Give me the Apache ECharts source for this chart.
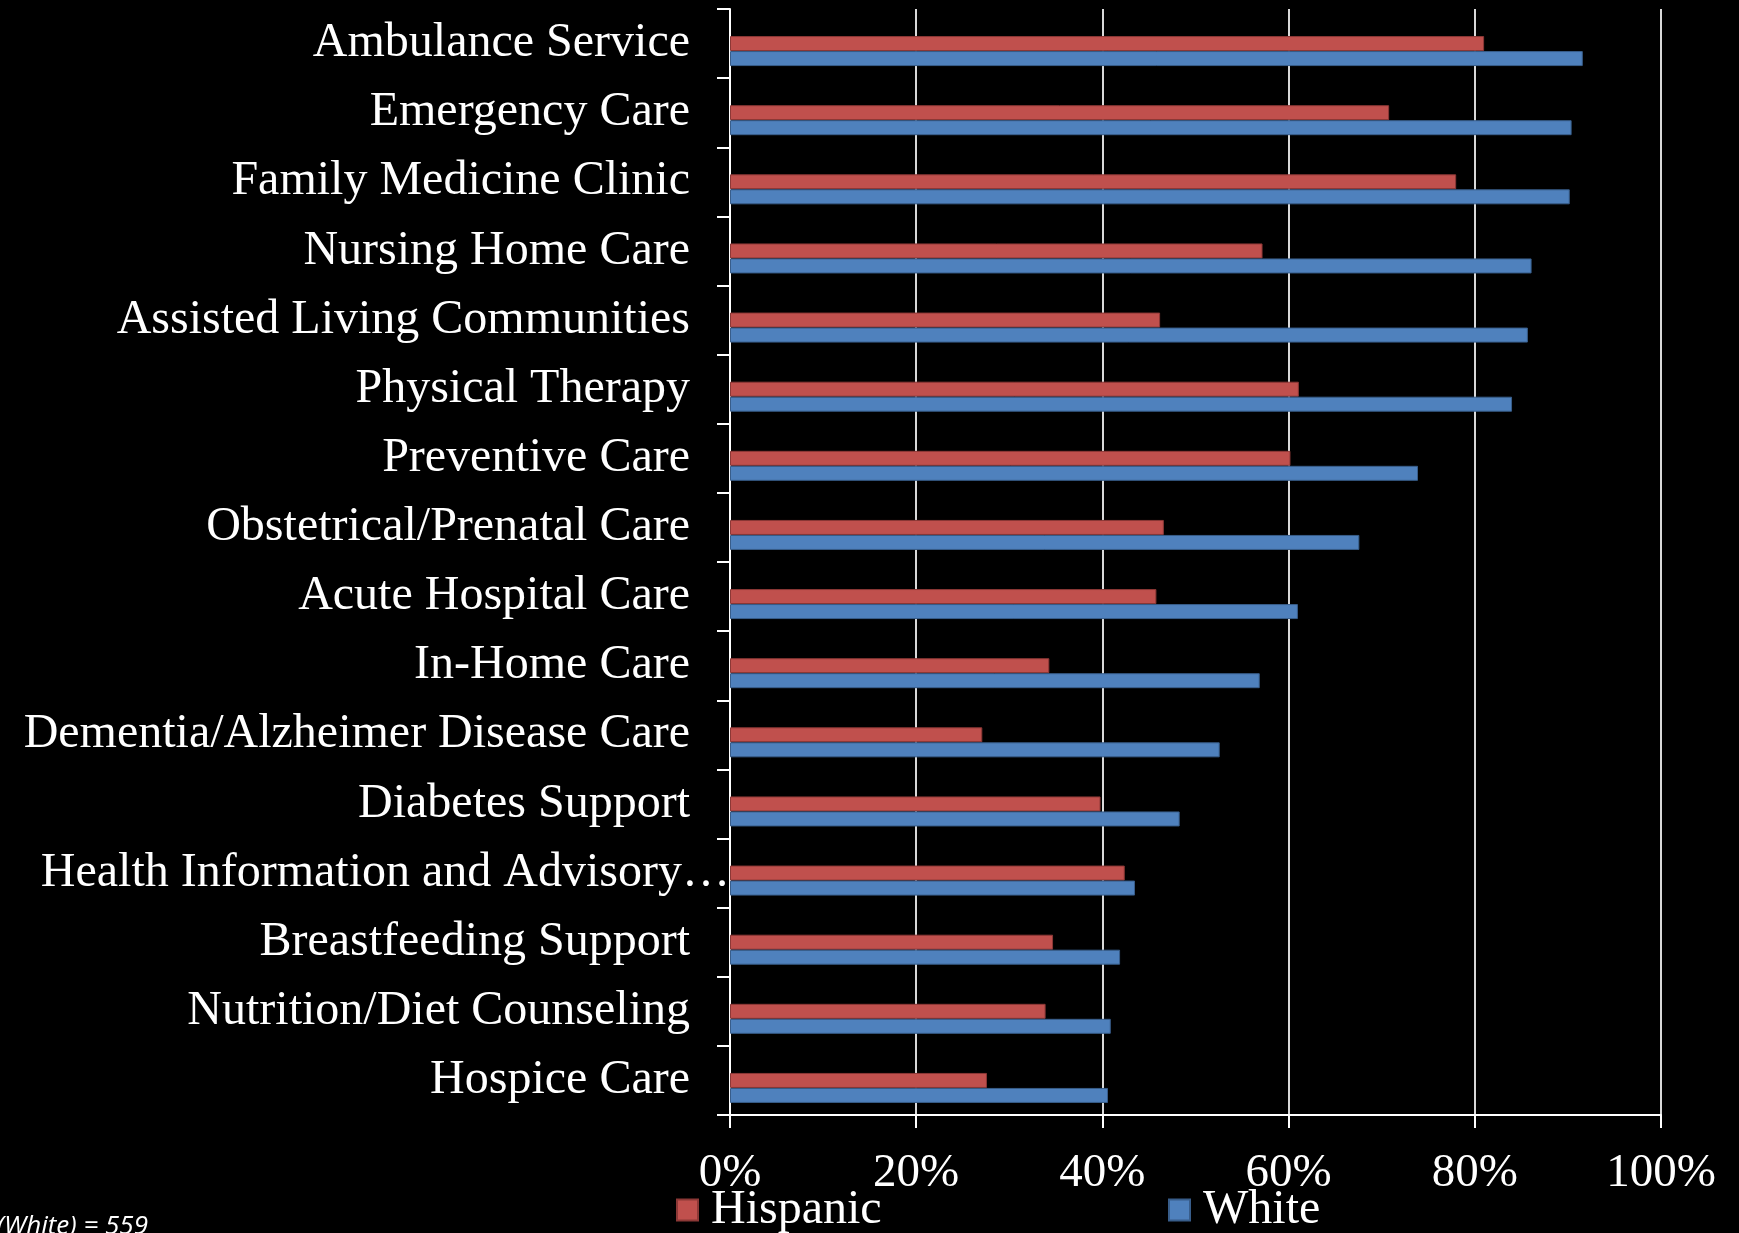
<!DOCTYPE html>
<html>
<head>
<meta charset="utf-8">
<script src="https://cdn.jsdelivr.net/npm/echarts@6/dist/echarts.min.js"></script>
<style>
  html, body { margin: 0; padding: 0; background: #000; }
  #chart { width: 1739px; height: 1233px; }
</style>
</head>
<body>
<div id="chart"></div>
<script>
// categories, top to bottom
const categories = [
  "Ambulance Service",
  "Emergency Care",
  "Family Medicine Clinic",
  "Nursing Home Care",
  "Assisted Living Communities",
  "Physical Therapy",
  "Preventive Care",
  "Obstetrical/Prenatal Care",
  "Acute Hospital Care",
  "In-Home Care",
  "Dementia/Alzheimer Disease Care",
  "Diabetes Support",
  "Health Information and Advisory…",
  "Breastfeeding Support",
  "Nutrition/Diet Counseling",
  "Hospice Care",
];
// percent values
const hispanic = [81.0, 70.8, 78.0, 57.2, 46.2, 61.1, 60.2, 46.6, 45.8, 34.3, 27.1, 39.8, 42.4, 34.7, 33.9, 27.6];
const white = [91.6, 90.4, 90.2, 86.1, 85.7, 84.0, 73.9, 67.6, 61.0, 56.9, 52.6, 48.3, 43.5, 41.9, 40.9, 40.6];
const xTicks = [0, 20, 40, 60, 80, 100];
const seriesNames = ["Hispanic", "White"];
const footnote = "n (White) = 559";

const serif = "'Liberation Serif', 'DejaVu Serif', serif";

const chart = echarts.init(document.getElementById("chart"));

// one legend per item, the original spreads them far apart
const legendAt = (name, left) => ({
  data: [name],
  left: left,
  top: 1186,
  padding: 0,
  icon: "rect",
  itemWidth: 21,
  itemHeight: 21,
  textStyle: { color: "#fff", fontFamily: serif, fontSize: 48, padding: [0, 0, 0, 8] },
});

const option = {
  backgroundColor: "#000",
  animation: false,
  grid: {
    left: 730,
    right: 78,
    top: 9,
    bottom: 118,
    containLabel: false,
    outerBoundsMode: "none",
  },
  legend: [legendAt(seriesNames[0], 676), legendAt(seriesNames[1], 1168)],
  xAxis: {
    type: "value",
    min: xTicks[0],
    max: xTicks[xTicks.length - 1],
    interval: 20,
    axisLine: { show: true, lineStyle: { color: "#fff", width: 2 } },
    axisTick: { show: true, length: 13, lineStyle: { color: "#fff", width: 2 } },
    axisLabel: {
      color: "#fff",
      fontFamily: serif,
      fontSize: 47,
      margin: 35,
      formatter: "{value}%",
    },
    splitLine: { show: true, lineStyle: { color: "#d9d9d9", width: 2 } },
  },
  yAxis: {
    type: "category",
    inverse: true,
    data: categories.map((c) =>
      // the truncated label runs past the others in the original
      c.endsWith("…") ? { value: c, textStyle: { padding: [14, -40, 0, 0] } } : c
    ),
    axisLine: { show: true, lineStyle: { color: "#fff", width: 2 } },
    axisTick: { show: true, length: 13, lineStyle: { color: "#fff", width: 2 } },
    axisLabel: {
      interval: 0,
      color: "#fff",
      fontFamily: serif,
      fontSize: 48,
      margin: 40,
      padding: [14, 0, 0, 0],
    },
    splitLine: { show: false },
  },
  series: [
    {
      // empty slot above the red bar, the original bars sit low in each band
      name: "spacer",
      type: "bar",
      data: categories.map(() => "-"),
      barWidth: 15,
      barGap: "0%",
    },
    {
      name: seriesNames[0],
      type: "bar",
      data: hispanic,
      barWidth: 15,
      barGap: "0%",
      itemStyle: { color: "#C0504D", borderColor: "#8C3836", borderWidth: 1 },
    },
    {
      name: seriesNames[1],
      type: "bar",
      data: white,
      barWidth: 15,
      barGap: "0%",
      itemStyle: { color: "#4F81BD", borderColor: "#385D8A", borderWidth: 1 },
    },
  ],
  graphic: [
    {
      type: "text",
      x: 148,
      y: 1240,
      style: {
        text: footnote,
        fill: "#fff",
        font: "italic 26px 'Open Sans', sans-serif",
        align: "right",
        verticalAlign: "bottom",
      },
    },
  ],
};

chart.setOption(option);
</script>
</body>
</html>
